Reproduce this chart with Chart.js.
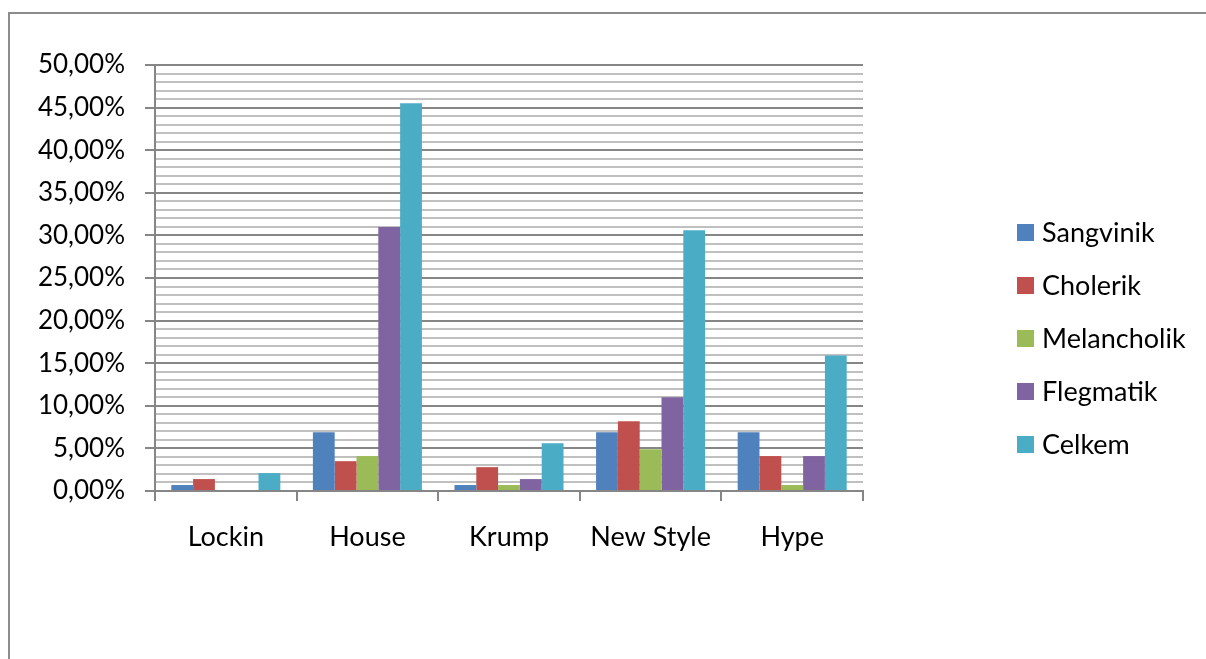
<!DOCTYPE html>
<html>
<head>
<meta charset="utf-8">
<script src="https://cdn.jsdelivr.net/npm/chart.js@4"></script>
<style>
  html, body { margin: 0; padding: 0; background: #fff; }
  #wrap { width: 1206px; height: 659px; position: relative; }
</style>
</head>
<body>
<div id="wrap"><canvas id="chart"></canvas></div>
<script>
// Data (values in percent)
const categories = ["Lockin", "House", "Krump", "New Style", "Hype"];
const seriesNames = ["Sangvinik", "Cholerik", "Melancholik", "Flegmatik", "Celkem"];
const sangvinik = [0.7, 6.9, 0.7, 6.9, 6.9];
const cholerik = [1.4, 3.5, 2.8, 8.2, 4.1];
const melancholik = [0, 4.1, 0.7, 4.9, 0.7];
const flegmatik = [0, 31.0, 1.4, 11.0, 4.1];
const celkem = [2.1, 45.5, 5.6, 30.6, 15.9];
const yTicks = [0, 5, 10, 15, 20, 25, 30, 35, 40, 45, 50];

const colors = ["#4F81BD", "#C0504D", "#9BBB59", "#8064A2", "#4BACC6"];
const values = [sangvinik, cholerik, melancholik, flegmatik, celkem];
const FONT = "Lato, 'Open Sans', sans-serif";

// Outer frame + legend drawn on canvas
const framePlugin = {
  id: "frame",
  beforeDraw(chart) {
    const ctx = chart.ctx;
    ctx.save();
    ctx.fillStyle = "#fff";
    ctx.fillRect(0, 0, chart.width, chart.height);
    ctx.strokeStyle = "#8c8c8c";
    ctx.lineWidth = 2;
    ctx.strokeRect(9, 13, 1400, 1000);
    ctx.restore();
  },
  afterDraw(chart) {
    const ctx = chart.ctx;
    ctx.save();
    ctx.font = "27px " + FONT;
    ctx.textBaseline = "middle";
    chart.data.datasets.forEach((ds, i) => {
      const cy = 232 + i * 53;
      ctx.fillStyle = ds.backgroundColor;
      ctx.fillRect(1017, cy - 8, 17, 17);
      ctx.fillStyle = "#000";
      ctx.fillText(ds.label, 1042, cy + 1);
    });
    ctx.restore();
  }
};

const ctx = document.getElementById("chart").getContext("2d");
const chart = new Chart(ctx, {
  type: "bar",
  data: {
    labels: categories,
    datasets: seriesNames.map((name, i) => ({
      label: name,
      data: values[i],
      backgroundColor: colors[i],
      borderWidth: 0,
      categoryPercentage: 0.77,
      barPercentage: 1.0
    }))
  },
  options: {
    responsive: true,
    maintainAspectRatio: false,
    animation: false,
    layout: { padding: { left: 0, right: 343, top: 65, bottom: 0 } },
    plugins: {
      legend: { display: false },
      tooltip: { enabled: false }
    },
    scales: {
      x: {
        grid: {
          drawOnChartArea: false,
          tickLength: 10,
          tickColor: "#868686",
          lineWidth: 2,
          offset: true
        },
        border: { color: "#868686", width: 2 },
        ticks: {
          color: "#000",
          font: { family: FONT, size: 27 },
          padding: 20,
          maxRotation: 0
        },
        afterFit(scale) { scale.height = 168; }
      },
      y: {
        min: 0,
        max: 50,
        afterBuildTicks(scale) {
          const t = [];
          for (let v = 0; v <= 50; v++) t.push({ value: v });
          scale.ticks = t;
        },
        grid: {
          color: c => (yTicks.includes(c.tick.value) ? "#868686" : "#c0c0c0"),
          tickColor: c => (yTicks.includes(c.tick.value) ? "#868686" : "rgba(0,0,0,0)"),
          lineWidth: 2,
          tickLength: 10
        },
        border: { color: "#868686", width: 2 },
        ticks: {
          autoSkip: false,
          color: "#000",
          font: { family: FONT, size: 26 },
          padding: 20,
          callback: v => (yTicks.includes(v) ? v.toFixed(2).replace(".", ",") + "%" : "")
        },
        afterFit(scale) { scale.width = 155; }
      }
    }
  },
  plugins: [framePlugin]
});
</script>
</body>
</html>
